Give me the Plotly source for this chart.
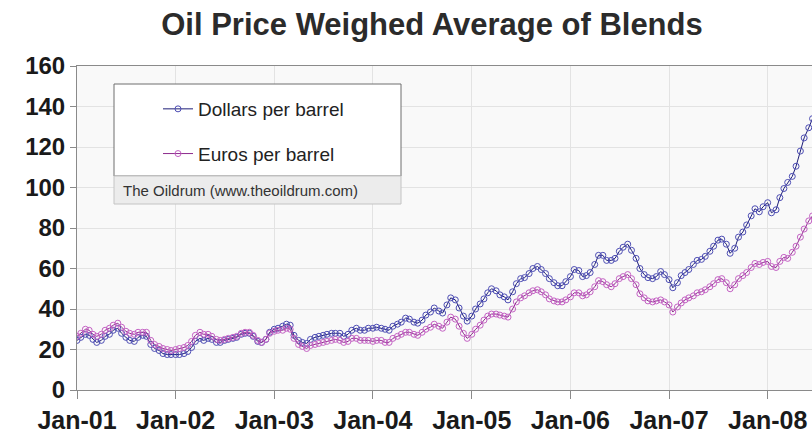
import pandas as pd
import plotly.graph_objects as go

# Semi-monthly readings (1st and 15th of each month), Jan 2001 .. Jun 2008
dates = pd.date_range("2001-01-01", "2008-06-30", freq="SMS")

dollars = [
    # 2001
    24.5, 26, 27.5, 27, 25, 23.5, 24.5, 26.5, 27.5, 29.5, 30.5, 28,
    26, 24.5, 24, 26, 27, 26.5, 22.5, 20.5, 19.5, 18, 17.5, 17.5,
    # 2002
    17.5, 17.5, 18, 19, 21, 24, 25.5, 24.5, 25.5, 25, 23.5, 23.5,
    24.5, 25, 25.5, 26, 27.5, 28, 28, 26.5, 24, 23.5, 25, 28.5,
    # 2003
    30, 30.5, 31.5, 32.5, 32, 27, 24.5, 23.5, 23, 25, 26, 26.5,
    27, 27.5, 28, 28, 28, 26.5, 27.5, 29.5, 30.5, 29.5, 29.5, 30.5,
    # 2004
    30.5, 31, 30.5, 30, 29.5, 31.5, 32.5, 33.5, 35.5, 35, 33.5, 33,
    34.5, 37, 38.5, 40.5, 39, 38, 42, 45.5, 44.5, 40.5, 36.5, 34,
    # 2005
    36.5, 40, 42.5, 45, 48, 50, 49, 47, 46, 44.5, 48.5, 52.5,
    55, 55.5, 57.5, 60, 61, 59.5, 57.5, 55, 53, 51.5, 51.5, 53.5,
    # 2006
    56, 59.5, 59, 56, 56.5, 58, 62, 66.5, 66.5, 64, 64, 65,
    68.5, 70.5, 72, 69, 65, 60, 57, 55.5, 55, 56, 58.5, 57,
    # 2007
    54.5, 50.5, 53, 56.5, 58, 59.5, 62, 64, 64.5, 66, 68.5, 71,
    74, 74.5, 72, 67.5, 70, 75.5, 78, 81.5, 86, 89.5, 88, 90.5,
    # 2008
    92.5, 87.5, 89, 95, 99.5, 102.5, 105.5, 110.5, 118, 124.5, 129.5, 134,
]

euros = [
    # 2001
    26.5, 28, 30, 29.5, 27.5, 26.5, 27.5, 29.5, 30.5, 32, 33, 31,
    29, 28, 27.5, 28.5, 28.5, 28.5, 24.5, 22.5, 21.5, 20.5, 20, 19.5,
    # 2002
    20, 20.5, 21, 22, 24, 27, 28.5, 27.5, 27.5, 26.5, 25, 24.5,
    25, 25.5, 26, 26.5, 28, 28.5, 28.5, 27, 24.5, 23.5, 25, 28,
    # 2003
    29, 29.5, 29.5, 30.5, 30, 25.5, 22.5, 21.5, 20.5, 22, 22.5, 23,
    23.5, 24, 24.5, 25, 24.5, 23.5, 24, 25.5, 25.5, 24.5, 24.5, 24.5,
    # 2004
    24, 24.5, 24.5, 23.5, 23.5, 25.5, 26.5, 27.5, 28.5, 28.5, 27.5, 27,
    28.5, 30, 31, 32.5, 31.5, 30.5, 33.5, 36, 35, 31.5, 28, 25.5,
    # 2005
    27.5, 30, 32, 34.5, 36.5, 37.5, 37.5, 37, 36.5, 36, 40, 43.5,
    45.5, 46.5, 48, 49, 49.5, 48.5, 47, 45, 44, 43.5, 43.5, 44.5,
    # 2006
    46, 48, 48, 46.5, 47, 48.5, 51, 54, 53.5, 52, 51, 52.5,
    55, 56, 57, 55, 52, 47.5, 45.5, 44, 43.5, 44, 44.5, 43.5,
    # 2007
    42, 38.5, 41, 43, 44.5, 45.5, 46.5, 48, 48.5, 49.5, 51, 52.5,
    54.5, 55, 53, 50, 52, 55, 56.5, 58, 60.5, 62.5, 62, 63,
    # 2008
    63.5, 61, 60.5, 63.5, 65.5, 65, 68, 71, 75.5, 79.5, 83.5, 86,
]

series_names = ["Dollars per barrel", "Euros per barrel"]
title_text = "Oil Price Weighed Average of Blends"
source_text = "The Oildrum (www.theoildrum.com)"
y_ticks = [0, 20, 40, 60, 80, 100, 120, 140, 160]

FONT = "Liberation Sans, Arial, sans-serif"

fig = go.Figure()
fig.add_trace(go.Scatter(
    x=dates, y=dollars, name=series_names[0], mode="lines+markers",
    legendgroup="d",
    line=dict(color="#1e1e78", width=1),
    marker=dict(symbol="circle-open", size=6, color="#4d4db4", line=dict(width=1)),
))
fig.add_trace(go.Scatter(
    x=dates, y=euros, name=series_names[1], mode="lines+markers",
    legendgroup="e",
    line=dict(color="#8c2a8c", width=1),
    marker=dict(symbol="circle-open", size=6, color="#c462c4", line=dict(width=1)),
))

# plot-area pixel helpers (plot area: x 77..812, y 66..390)
def px(x):
    return (x - 77) / 735.0

def py(y):
    return (390 - y) / 324.0

fig.add_shape(type="rect", xref="paper", yref="paper",
              x0=px(114), x1=px(401), y0=py(176), y1=py(84),
              fillcolor="white", line=dict(color="#6e6e6e", width=1))
fig.add_shape(type="rect", xref="paper", yref="paper",
              x0=px(114), x1=px(401), y0=py(204), y1=py(176),
              fillcolor="#ececec", line=dict(color="#c4c4c4", width=1))
fig.add_annotation(xref="paper", yref="paper", x=px(121), y=py(190),
                   xanchor="left", yanchor="middle", showarrow=False,
                   text=source_text,
                   font=dict(family=FONT, size=15, color="#333333"))

fig.update_layout(
    width=812, height=445,
    margin=dict(l=77, r=0, t=66, b=55),
    paper_bgcolor="white",
    plot_bgcolor="#f9f9f9",
    title=dict(text=title_text, x=432 / 812, y=1 - 24 / 445,
               xanchor="center", yanchor="middle",
               font=dict(family=FONT, size=31, color="#2b2b2b", weight="bold")),
    showlegend=True,
    legend=dict(x=px(158), y=py(90), xanchor="left", yanchor="top",
                bgcolor="rgba(0,0,0,0)", borderwidth=0,
                traceorder="grouped", tracegroupgap=17,
                font=dict(family=FONT, size=19, color="#222222")),
    xaxis=dict(
        type="date",
        range=["2001-01-01", "2008-06-13"],
        tick0="2001-01-01", dtick="M12", tickformat="%b-%y",
        showgrid=True, gridcolor="#e3e3e3", gridwidth=1,
        showline=True, linecolor="#8a8a8a", linewidth=1, mirror=True,
        ticks="outside", ticklen=8, tickcolor="#8a8a8a",
        tickfont=dict(family=FONT, size=25, color="#1a1a1a", weight="bold"),
        zeroline=False,
    ),
    yaxis=dict(
        range=[0, 160], tickvals=y_ticks,
        showgrid=True, gridcolor="#e3e3e3", gridwidth=1,
        showline=True, linecolor="#8a8a8a", linewidth=1,
        ticks="outside", ticklen=6, tickcolor="#8a8a8a",
        tickfont=dict(family=FONT, size=24, color="#1a1a1a", weight="bold"),
        zeroline=False,
    ),
)

fig.write_html(
    "out.html",
    config={"displayModeBar": False},
    post_script="document.body.style.margin='0';document.body.style.overflow='hidden';",
)
